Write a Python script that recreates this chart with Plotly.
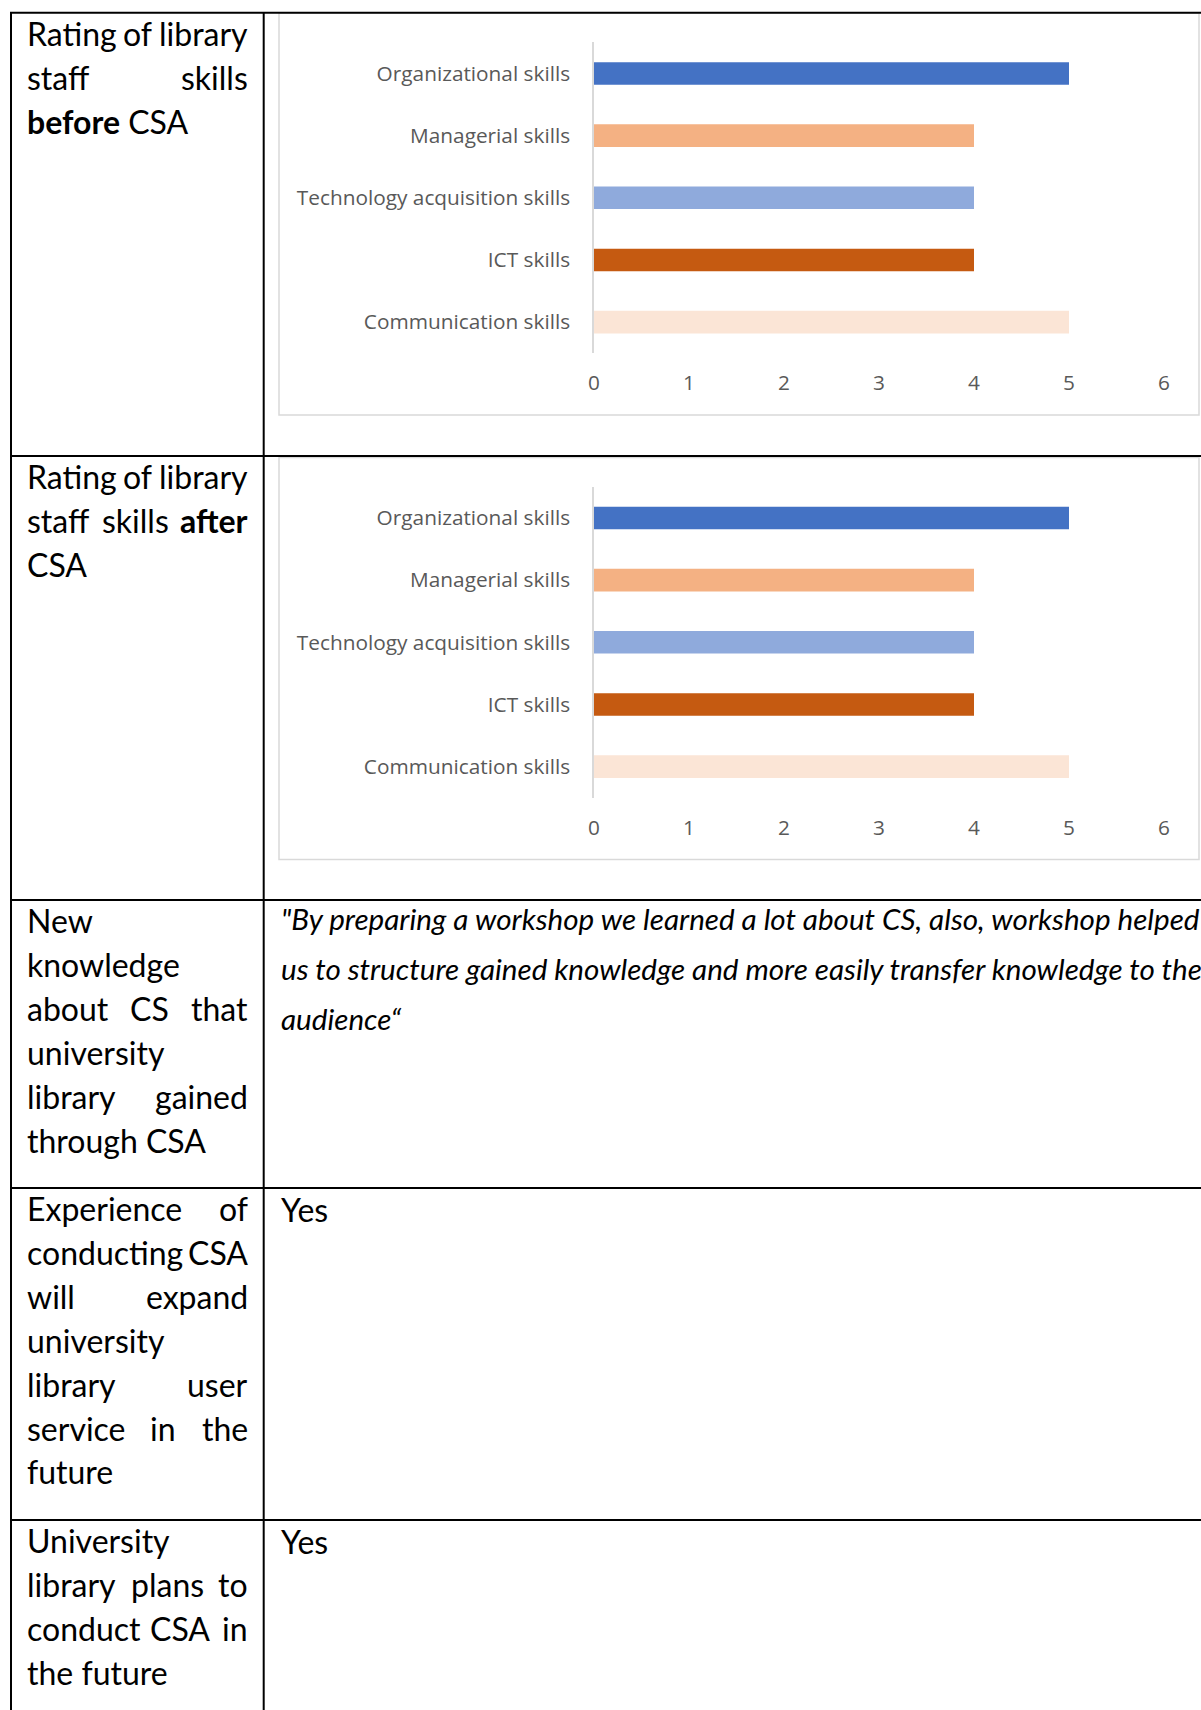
import plotly.graph_objects as go

W, H = 1201, 1710

# ---------------- data ----------------
skills = ["Organizational skills", "Managerial skills", "Technology acquisition skills",
          "ICT skills", "Communication skills"]
before_values = [5, 4, 4, 4, 5]
after_values = [5, 4, 4, 4, 5]
bar_colors = ["#4472C4", "#F4B183", "#8FAADC", "#C55A11", "#FBE5D6"]
x_ticks = [0, 1, 2, 3, 4, 5, 6]

row_labels = [
    ["Rating of library", "staff skills", "<b>before</b> CSA"],
    ["Rating of library", "staff skills <b>after</b>", "CSA"],
    ["New", "knowledge", "about CS that", "university", "library gained", "through CSA"],
    ["Experience of", "conducting CSA", "will expand", "university", "library user",
     "service in the", "future"],
    ["University", "library plans to", "conduct CSA in", "the future"],
]
quote_lines = [
    "\"By preparing a workshop we learned a lot about CS, also, workshop helped",
    "us to structure gained knowledge and more easily transfer knowledge to the",
    "audience\u201c",
]
answers = ["Yes", "Yes"]

# ---------------- layout helpers ----------------
def px(x):
    return x / W

def py(y):
    return 1 - y / H

ROW_TOPS = [12.7, 456.0, 900.0, 1188.0, 1520.0]
LEFT_X = 11.0
COL_X = 263.7
TEXT_L, TEXT_R = 26.7, 248.0
LINE_H = 43.9
FIRST_OFF = 20.5
# centres of the middle word on three-word justified lines
MID_X = {"of": 137.0, "skills": 135.0, "CS": 149.7, "in": 163.5, "plans": 167.0, "CSA": 180.0}

fig = go.Figure()

CHART_OFF = [0.0, 444.5]
PLOT_TOP, PLOT_BOT = 42.4, 353.2
PLOT_L, PLOT_R = 594.0, 1164.0
tick_font = dict(family="Open Sans", size=20.8, color="#595959")

for i, vals in enumerate([before_values, after_values]):
    suffix = "" if i == 0 else str(i + 1)
    fig.add_trace(go.Bar(
        x=vals, y=skills, orientation="h",
        marker=dict(color=bar_colors, line=dict(width=0)),
        xaxis="x" + suffix, yaxis="y" + suffix, hoverinfo="x+y",
    ))
    off = CHART_OFF[i]
    xa = dict(domain=[px(PLOT_L), px(PLOT_R)], range=[0, 6], tickvals=x_ticks,
              showgrid=False, zeroline=False, showline=False, tickfont=tick_font,
              ticklabelstandoff=15, anchor="y" + suffix, fixedrange=True, automargin=False)
    ya = dict(domain=[py(PLOT_BOT + off), py(PLOT_TOP + off)],
              categoryorder="array", categoryarray=skills, autorange="reversed",
              showgrid=False, zeroline=False, showline=True, linecolor="#d9d9d9",
              linewidth=1.5, tickfont=tick_font, ticklabelstandoff=18,
              anchor="x" + suffix, fixedrange=True, automargin=False)
    fig.update_layout(**{"xaxis" + suffix: xa, "yaxis" + suffix: ya})
    # chart frame
    fig.add_shape(type="rect", xref="paper", yref="paper",
                  x0=px(279), x1=px(1199), y0=py(13 + off), y1=py(415 + off),
                  line=dict(color="#d9d9d9", width=1.5), layer="below")

# table lines
for yt in ROW_TOPS:
    fig.add_shape(type="line", xref="paper", yref="paper", x0=px(LEFT_X - 1), x1=px(W),
                  y0=py(yt), y1=py(yt), line=dict(color="black", width=2))
for xv in [LEFT_X, COL_X]:
    fig.add_shape(type="line", xref="paper", yref="paper", x0=px(xv), x1=px(xv),
                  y0=py(ROW_TOPS[0]), y1=py(H), line=dict(color="black", width=2))

lbl_font = dict(family="Lato", size=32, color="black")

def add_text(text, x, y, anchor, font):
    fig.add_annotation(text=text, x=px(x), y=py(y), xref="paper", yref="paper",
                       xanchor=anchor, align=anchor, yanchor="middle", showarrow=False,
                       font=font, borderpad=0, borderwidth=0)

for r, lines in enumerate(row_labels):
    for k, line in enumerate(lines):
        y = ROW_TOPS[r] + FIRST_OFF + k * LINE_H
        words = line.replace("<b>", "\x01").replace("</b>", "\x02").split(" ")
        words = [w.replace("\x01", "<b>").replace("\x02", "</b>") for w in words]
        last = k == len(lines) - 1
        if last or len(words) == 1:
            add_text(line, TEXT_L, y, "left", lbl_font)
        else:
            add_text(words[0], TEXT_L, y, "left", lbl_font)
            add_text(words[-1], TEXT_R, y, "right", lbl_font)
            for w in words[1:-1]:
                key = w.replace("<b>", "").replace("</b>", "")
                add_text(w, MID_X[key], y, "center", lbl_font)

quote_font = dict(family="Lato", size=29.6, color="black")
for k, line in enumerate(quote_lines):
    add_text("<i>" + line + "</i>", 281, ROW_TOPS[2] + 18.0 + k * 50.2, "left", quote_font)

for j, ans in enumerate(answers):
    add_text(ans, 281, ROW_TOPS[3 + j] + FIRST_OFF + 1, "left", lbl_font)

fig.update_layout(width=W, height=H, margin=dict(l=0, r=0, t=0, b=0, autoexpand=False),
                  autosize=False, paper_bgcolor="white", plot_bgcolor="white",
                  showlegend=False, bargap=0.636)

fig.write_html("out.html")
